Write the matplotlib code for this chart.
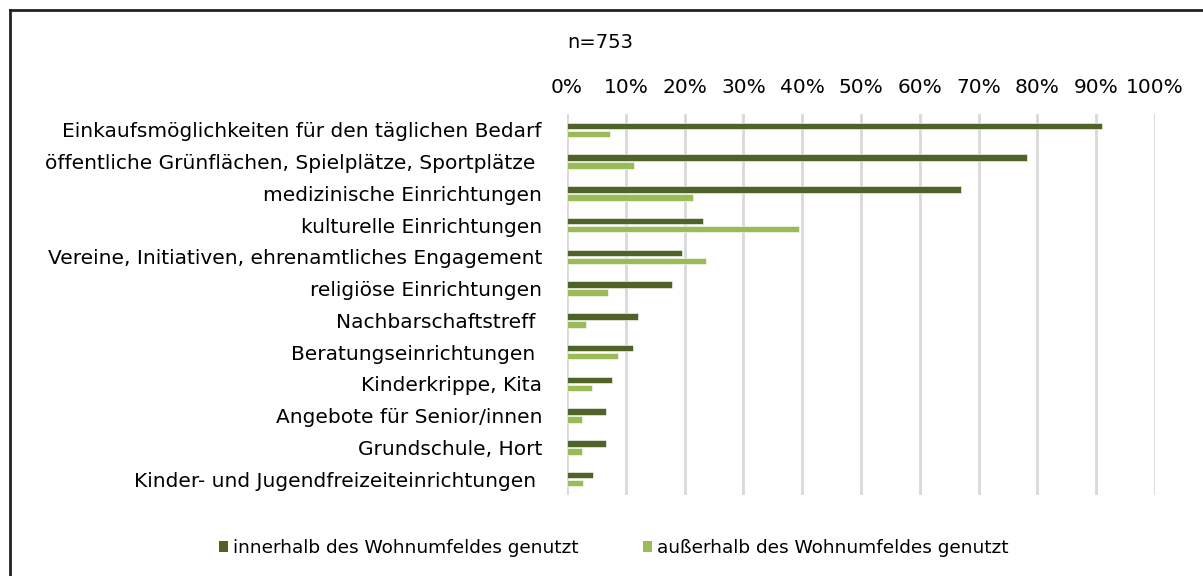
import matplotlib.pyplot as plt
from matplotlib.lines import Line2D
from matplotlib.patches import Patch

plt.rcParams['font.family'] = ['DejaVu Sans']

# Nutzung der Einrichtungen (Anteil in %), n=753
kategorien = [
    'Einkaufsmöglichkeiten für den täglichen Bedarf',
    'öffentliche Grünflächen, Spielplätze, Sportplätze ',
    'medizinische Einrichtungen',
    'kulturelle Einrichtungen',
    'Vereine, Initiativen, ehrenamtliches Engagement',
    'religiöse Einrichtungen',
    'Nachbarschaftstreff ',
    'Beratungseinrichtungen ',
    'Kinderkrippe, Kita',
    'Angebote für Senior/innen',
    'Grundschule, Hort',
    'Kinder- und Jugendfreizeiteinrichtungen ',
]
innerhalb = [91.0, 78.2, 67.0, 23.2, 19.5, 17.8, 12.0, 11.3, 7.6, 6.6, 6.6, 4.5]
ausserhalb = [7.3, 11.4, 21.5, 39.5, 23.6, 6.9, 3.2, 8.6, 4.2, 2.5, 2.5, 2.8]

legende = ['innerhalb des Wohnumfeldes genutzt', 'außerhalb des Wohnumfeldes genutzt']
dunkel = '#4f6228'
hell = '#9bbb59'

W, H = 1203, 576
fig = plt.figure(figsize=(W / 100, H / 100), dpi=100)
ax = fig.add_axes([567 / W, 1 - 495 / H, (1155 - 567) / W, (495 - 114) / H])

pos = list(range(len(kategorien)))
ax.barh([p - 0.125 for p in pos], innerhalb, height=0.21, color=dunkel,
        edgecolor='white', linewidth=0.4, zorder=3)
ax.barh([p + 0.125 for p in pos], ausserhalb, height=0.21, color=hell,
        edgecolor='white', linewidth=0.4, zorder=3)

ax.set_xlim(0, 100)
ax.set_ylim(len(kategorien) - 0.5, -0.5)
ax.set_xticks(range(0, 101, 10))
ax.set_xticklabels([f'{v}%' for v in range(0, 101, 10)], fontsize=14.5)
ax.xaxis.tick_top()
ax.tick_params(axis='x', length=0, pad=12)
ax.set_yticks(pos)
ax.set_yticklabels(kategorien, fontsize=14.5)
ax.tick_params(axis='y', length=0, pad=18)
ax.grid(axis='x', color='#d9d9d9', linewidth=2, zorder=0)
for s in ax.spines.values():
    s.set_visible(False)

fig.text(600 / W, 1 - 43 / H, 'n=753', ha='center', va='center', fontsize=14)

handles = [Patch(facecolor=dunkel), Patch(facecolor=hell)]
fig.legend(handles, legende, loc='center', bbox_to_anchor=(614 / W, 1 - 548 / H),
           ncol=2, frameon=False, fontsize=13.3, handlelength=0.48, handleheight=0.6,
           handletextpad=0.28, columnspacing=3.5)

# Rahmen (oben und links)
fig.add_artist(Line2D([10 / W, 1], [1 - 10 / H, 1 - 10 / H], color='#222222', linewidth=2))
fig.add_artist(Line2D([10 / W, 10 / W], [0, 1 - 10 / H], color='#222222', linewidth=2))

fig.savefig('out.png', dpi=100)
